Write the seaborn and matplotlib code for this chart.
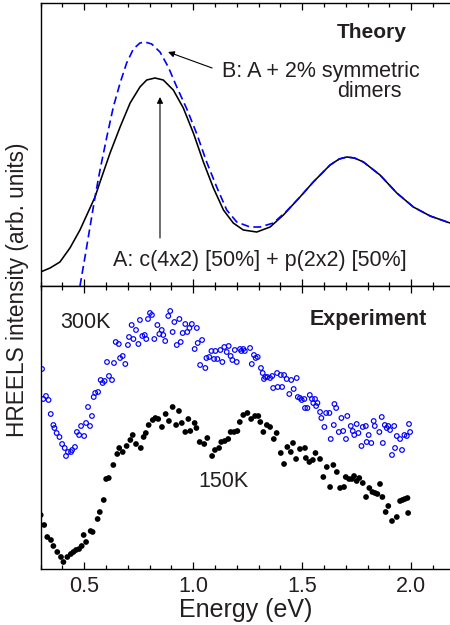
import matplotlib
matplotlib.use("Agg")
import matplotlib.pyplot as plt
import numpy as np
import pandas as pd
import seaborn as sns
from matplotlib.ticker import MultipleLocator, NullLocator

# ---- Theory curves (arb. units) ----
theory_a_energy = [0.300, 0.344, 0.389, 0.435, 0.481, 0.527, 0.550, 0.573, 0.619, 0.665,
                   0.711, 0.756, 0.787, 0.825, 0.863, 0.909, 0.955, 1.001, 1.047, 1.093,
                   1.139, 1.184, 1.230, 1.292, 1.353, 1.414, 1.490, 1.551, 1.628, 1.670,
                   1.705, 1.740, 1.781, 1.857, 1.934, 2.010, 2.087, 2.178]
theory_a_intensity = [0.14, 0.18, 0.24, 0.38, 0.56, 0.78, 0.89, 1.04, 1.33, 1.59,
                      1.83, 1.99, 2.06, 2.08, 2.06, 1.96, 1.78, 1.53, 1.24, 0.98,
                      0.76, 0.63, 0.56, 0.54, 0.59, 0.71, 0.89, 1.04, 1.21, 1.27,
                      1.29, 1.28, 1.24, 1.11, 0.93, 0.79, 0.70, 0.63]

theory_b_energy = [0.481, 0.504, 0.527, 0.550, 0.573, 0.604, 0.634, 0.665, 0.695, 0.726,
                   0.756, 0.779, 0.810, 0.848, 0.886, 0.925, 0.971, 1.017, 1.062, 1.108,
                   1.154, 1.200, 1.261, 1.307, 1.368, 1.429, 1.490, 1.551, 1.628, 1.670,
                   1.705, 1.740, 1.781, 1.857, 1.934, 2.010, 2.087, 2.178]
theory_b_intensity = [0.00, 0.29, 0.59, 0.89, 1.16, 1.49, 1.79, 2.03, 2.23, 2.37,
                      2.43, 2.44, 2.42, 2.34, 2.19, 1.99, 1.77, 1.52, 1.24, 0.99,
                      0.76, 0.64, 0.59, 0.59, 0.63, 0.75, 0.89, 1.04, 1.21, 1.27,
                      1.29, 1.28, 1.24, 1.11, 0.93, 0.79, 0.70, 0.63]

# ---- Experiment, 300 K (open circles) ----
exp300_energy = [
    0.307, 0.313, 0.325, 0.337, 0.347, 0.359, 0.364, 0.374, 0.387, 0.399,
    0.411, 0.417, 0.426, 0.440, 0.445, 0.458, 0.467, 0.477, 0.486, 0.500,
    0.509, 0.518, 0.527, 0.536, 0.544, 0.551, 0.564, 0.576, 0.585, 0.594,
    0.605, 0.614, 0.628, 0.637, 0.645, 0.659, 0.665, 0.677, 0.689, 0.701,
    0.706, 0.718, 0.726, 0.738, 0.749, 0.756, 0.767, 0.778, 0.785, 0.793,
    0.802, 0.811, 0.822, 0.836, 0.845, 0.856, 0.863, 0.872, 0.886, 0.895,
    0.906, 0.914, 0.925, 0.937, 0.943, 0.952, 0.964, 0.973, 0.983, 0.994,
    1.007, 1.017, 1.021, 1.032, 1.041, 1.056, 1.061, 1.074, 1.084, 1.096,
    1.102, 1.111, 1.125, 1.134, 1.143, 1.154, 1.163, 1.172, 1.180, 1.191,
    1.200, 1.215, 1.221, 1.230, 1.237, 1.261, 1.269, 1.279, 1.287, 1.296,
    1.311, 1.319, 1.325, 1.331, 1.340, 1.353, 1.363, 1.367, 1.385, 1.388,
    1.402, 1.408, 1.417, 1.429, 1.441, 1.450, 1.461, 1.475, 1.480, 1.490,
    1.498, 1.510, 1.513, 1.524, 1.535, 1.545, 1.551, 1.559, 1.564, 1.570,
    1.582, 1.588, 1.602, 1.610, 1.625, 1.631, 1.645, 1.648, 1.656, 1.668,
    1.680, 1.688, 1.701, 1.707, 1.723, 1.732, 1.739, 1.750, 1.758, 1.772,
    1.778, 1.792, 1.796, 1.805, 1.817, 1.828, 1.833, 1.854, 1.865, 1.870,
    1.879, 1.888, 1.895, 1.903, 1.912, 1.922, 1.926, 1.934, 1.949, 1.958,
    1.969, 1.980, 1.990, 1.995]
exp300_intensity = [
    2.00, 1.70, 1.73, 1.69, 1.55, 1.44, 1.41, 1.36, 1.32, 1.25,
    1.21, 1.13, 1.17, 1.17, 1.19, 1.22, 1.37, 1.34, 1.43, 1.33,
    1.46, 1.62, 1.43, 1.53, 1.72, 1.76, 1.77, 1.89, 1.86, 1.88,
    2.07, 1.93, 1.89, 2.06, 2.27, 2.25, 2.11, 2.13, 2.05, 2.24,
    2.32, 2.44, 2.30, 2.39, 2.25, 2.49, 2.33, 2.34, 2.30, 2.50,
    2.56, 2.54, 2.30, 2.44, 2.35, 2.39, 2.34, 2.28, 2.53, 2.58,
    2.37, 2.47, 2.24, 2.50, 2.27, 2.36, 2.45, 2.37, 2.41, 2.45,
    2.20, 2.41, 2.26, 2.04, 2.29, 2.01, 2.11, 2.12, 2.18, 2.10,
    2.18, 2.10, 2.19, 2.07, 2.22, 2.17, 2.23, 2.13, 2.09, 2.19,
    2.07, 2.20, 2.18, 2.20, 2.18, 2.21, 2.05, 2.14, 2.11, 2.12,
    2.01, 1.96, 1.90, 1.92, 1.92, 1.91, 1.93, 1.81, 1.96, 1.82,
    1.94, 1.82, 1.94, 1.90, 1.75, 1.89, 1.80, 1.91, 1.72, 1.71,
    1.69, 1.70, 1.61, 1.61, 1.74, 1.70, 1.66, 1.70, 1.63, 1.66,
    1.57, 1.51, 1.42, 1.56, 1.56, 1.30, 1.44, 1.65, 1.61, 1.37,
    1.51, 1.38, 1.30, 1.53, 1.43, 1.38, 1.34, 1.45, 1.36, 1.23,
    1.42, 1.43, 1.27, 1.34, 1.26, 1.48, 1.43, 1.37, 1.52, 1.26,
    1.44, 1.41, 1.43, 1.39, 1.14, 1.43, 1.21, 1.33, 1.30, 1.19,
    1.34, 1.33, 1.45, 1.37]

# ---- Experiment, 150 K (filled dots) ----
exp150_energy = [
    0.301, 0.317, 0.331, 0.348, 0.359, 0.377, 0.394, 0.405, 0.423, 0.439,
    0.451, 0.463, 0.477, 0.489, 0.498, 0.509, 0.530, 0.539, 0.562, 0.572,
    0.590, 0.601, 0.613, 0.634, 0.652, 0.661, 0.677, 0.695, 0.712, 0.723,
    0.738, 0.760, 0.773, 0.783, 0.796, 0.815, 0.827, 0.840, 0.857, 0.874,
    0.889, 0.906, 0.922, 0.935, 0.948, 0.964, 0.978, 0.987, 1.007, 1.015,
    1.030, 1.051, 1.065, 1.087, 1.100, 1.119, 1.129, 1.145, 1.161, 1.172,
    1.188, 1.203, 1.214, 1.230, 1.249, 1.266, 1.284, 1.299, 1.308, 1.322,
    1.338, 1.353, 1.370, 1.383, 1.402, 1.417, 1.432, 1.448, 1.458, 1.472,
    1.490, 1.513, 1.517, 1.533, 1.549, 1.561, 1.582, 1.597, 1.613, 1.628,
    1.643, 1.659, 1.674, 1.692, 1.700, 1.715, 1.728, 1.738, 1.750, 1.762,
    1.778, 1.793, 1.808, 1.822, 1.834, 1.845, 1.857, 1.868, 1.883, 1.895,
    1.912, 1.934, 1.949, 1.960, 1.971, 1.983, 1.986]
exp150_intensity = [
    0.54, 0.44, 0.32, 0.29, 0.23, 0.17, 0.12, 0.07, 0.12, 0.15,
    0.17, 0.19, 0.20, 0.23, 0.34, 0.27, 0.38, 0.37, 0.50, 0.57,
    0.69, 0.90, 0.91, 1.04, 1.15, 1.21, 1.17, 1.23, 1.29, 1.34,
    1.25, 1.21, 1.32, 1.36, 1.44, 1.49, 1.51, 1.50, 1.42, 1.55,
    1.48, 1.62, 1.44, 1.58, 1.46, 1.37, 1.50, 1.38, 1.46, 1.41,
    1.27, 1.25, 1.31, 1.13, 1.19, 1.21, 1.27, 1.28, 1.30, 1.37,
    1.37, 1.38, 1.47, 1.54, 1.56, 1.50, 1.53, 1.53, 1.47, 1.37,
    1.44, 1.42, 1.30, 1.36, 1.16, 1.05, 1.22, 1.17, 1.26, 1.10,
    1.20, 1.21, 1.11, 1.07, 1.09, 1.16, 1.10, 0.92, 1.02, 0.82,
    1.04, 0.97, 0.81, 0.82, 0.92, 0.90, 0.90, 0.93, 0.88, 0.91,
    0.86, 0.72, 0.81, 0.77, 0.76, 0.75, 0.85, 0.72, 0.57, 0.63,
    0.48, 0.52, 0.68, 0.69, 0.70, 0.71, 0.56]

x_ticks = [0.5, 1.0, 1.5, 2.0]
x_tick_labels = ["0.5", "1.0", "1.5", "2.0"]

TEXT = "#231f20"
BLUE = "#0000ff"

sns.set_style("ticks")
plt.rcParams["font.family"] = ["Liberation Sans", "DejaVu Sans"]
plt.rcParams["text.color"] = TEXT
plt.rcParams["axes.labelcolor"] = TEXT
plt.rcParams["xtick.color"] = TEXT
plt.rcParams["ytick.color"] = TEXT

fig = plt.figure(figsize=(4.5, 6.25), dpi=100)
ax_top = fig.add_axes([0.09, 0.5424, 0.91, 0.4528])
ax_bot = fig.add_axes([0.09, 0.0896, 0.91, 0.4528])

theory_a = pd.DataFrame({"energy": theory_a_energy, "intensity": theory_a_intensity})
theory_b = pd.DataFrame({"energy": theory_b_energy, "intensity": theory_b_intensity})
exp300 = pd.DataFrame({"energy": exp300_energy, "intensity": exp300_intensity})
exp150 = pd.DataFrame({"energy": exp150_energy, "intensity": exp150_intensity})

# Theory panel
sns.lineplot(data=theory_a, x="energy", y="intensity", ax=ax_top, color="black",
             lw=1.15, sort=False, estimator=None, solid_joinstyle="round")
sns.lineplot(data=theory_b, x="energy", y="intensity", ax=ax_top, color=BLUE,
             lw=1.2, sort=False, estimator=None, linestyle=(0, (4.8, 2.6)),
             dash_joinstyle="round")

# Experiment panel
sns.scatterplot(data=exp300, x="energy", y="intensity", ax=ax_bot, marker="o", s=11,
                facecolor="none", edgecolor=BLUE, linewidth=0.85)
sns.scatterplot(data=exp150, x="energy", y="intensity", ax=ax_bot, marker="o", s=17,
                color="black", edgecolor="none", linewidth=0)

for ax in (ax_top, ax_bot):
    ax.set_xlim(0.3, 2.178)
    ax.set_ylim(0, 2.83)
    ax.xaxis.set_major_locator(MultipleLocator(0.5))
    ax.xaxis.set_minor_locator(MultipleLocator(0.1))
    ax.yaxis.set_major_locator(NullLocator())
    ax.yaxis.set_minor_locator(NullLocator())
    ax.tick_params(axis="x", which="both", direction="in", top=True, bottom=True,
                   width=0.9, color="black")
    ax.tick_params(axis="x", which="major", length=5.0, labelsize=15.5, pad=5)
    ax.tick_params(axis="x", which="minor", length=2.8)
    ax.spines["right"].set_visible(False)
    for side in ("left", "top", "bottom"):
        ax.spines[side].set_linewidth(1.0)
        ax.spines[side].set_color("black")
    ax.set_ylabel("")
    ax.set_xlabel("")

ax_top.tick_params(axis="x", labelbottom=False)
ax_bot.set_xticks(x_ticks)
ax_bot.set_xticklabels(x_tick_labels)
ax_bot.set_xlabel("Energy (eV)", fontsize=18, labelpad=1)

fig.text(0.04, 0.536, "HREELS intensity (arb. units)", rotation=90,
         ha="center", va="center", fontsize=16.3)

# Annotations - theory panel
ax_top.text(1.981, 2.48, "Theory", ha="right", va="baseline", fontsize=15,
            fontweight="bold")
ax_top.text(1.133, 2.09, "B: A + 2% symmetric", ha="left", va="baseline", fontsize=15.5)
ax_top.text(1.660, 1.89, "dimers", ha="left", va="baseline", fontsize=15.5)
ax_top.text(0.633, 0.20, "A: c(4x2) [50%] + p(2x2) [50%]", ha="left", va="baseline",
            fontsize=15.5)
arrow_kw = dict(arrowstyle="-|>", color="black", lw=0.8, mutation_scale=9,
                shrinkA=0, shrinkB=0)
ax_top.annotate("", xy=(0.848, 1.89), xytext=(0.848, 0.48), arrowprops=arrow_kw)
ax_top.annotate("", xy=(0.885, 2.34), xytext=(1.087, 2.18), arrowprops=arrow_kw)

# Annotations - experiment panel
ax_bot.text(2.072, 2.44, "Experiment", ha="right", va="baseline", fontsize=15.5,
            fontweight="bold")
ax_bot.text(0.389, 2.41, "300K", ha="left", va="baseline", fontsize=15.5)
ax_bot.text(1.022, 0.82, "150K", ha="left", va="baseline", fontsize=15.5)

fig.savefig("out.png", dpi=100)
